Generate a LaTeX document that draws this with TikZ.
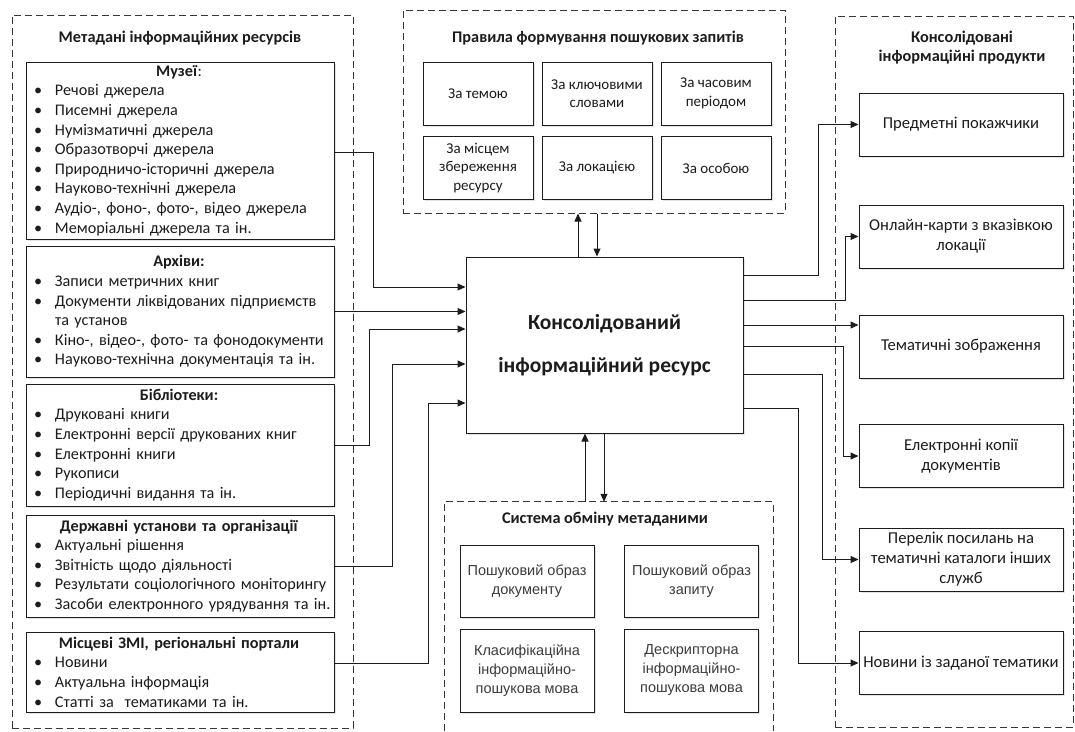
\documentclass[tikz,border=0pt]{standalone}
\usepackage{fontspec}
\setmainfont{Carlito}
\newfontfamily\arialfont{Liberation Sans}
\usetikzlibrary{arrows.meta,shadows}
\definecolor{Ink}{RGB}{28,28,28}
\definecolor{Frame}{RGB}{55,55,55}
\definecolor{Muted}{RGB}{60,60,60}
\newcommand{\bl}{\makebox[27pt][l]{\hspace{6pt}\textbullet}}
\newcommand{\ttl}[1]{\makebox[302pt]{#1}}
\tikzset{
  >=Triangle,
  box/.style={draw=Ink,line width=1pt,fill=white,align=center,text=Ink,font=\fontsize{15}{18.5}\selectfont,inner sep=2pt,drop shadow={shadow xshift=1.5pt,shadow yshift=-1.5pt,opacity=.22}},
  listbox/.style={box,align=left,text width=304pt,inner xsep=2pt,inner ysep=0pt,font=\fontsize{16.2}{19.6}\selectfont},
  rulebox/.style={box,minimum width=110pt,minimum height=63pt},
  exbox/.style={box,minimum width=134pt,text=Muted,font=\arialfont\fontsize{14.5}{19}\selectfont},
  prodbox/.style={box,minimum width=204pt,minimum height=63pt,font=\fontsize{16.6}{20}\selectfont},
  mainbox/.style={box,minimum width=277pt,minimum height=176pt,font=\bfseries\fontsize{21.5}{43}\selectfont},
  frame/.style={draw=Frame,line width=1pt,dash pattern=on 7pt off 4pt},
  head/.style={font=\bfseries\fontsize{16.3}{19}\selectfont,text=Ink,align=center},
  flow/.style={-{Triangle[length=8pt,width=7pt]},line width=1pt,draw=Ink}
}
\begin{document}
\begin{tikzpicture}[x=1pt,y=-1pt]
  \useasboundingbox (0,0) rectangle (1075,731);
  % frames
  \node[frame,minimum width=341pt,minimum height=713pt] (meta) at (182.5,371.5) {};
  \node[frame,minimum width=382pt,minimum height=203pt] (rules) at (594,111.5) {};
  \node[frame,minimum width=238pt,minimum height=711pt] (prod) at (954,371.5) {};
  \node[minimum width=328pt,minimum height=229pt] (exch) at (609,616.5) {};
  \draw[frame] (exch.south west) |- (exch.north east) -- (exch.south east);
  \node[head] (metat) at (180,38) {Метадані інформаційних ресурсів};
  \node[head] (rulest) at (598,38) {Правила формування пошукових запитів};
  \node[head] (prodt) at (962,47.5) {Консолідовані\\інформаційні продукти};
  \node[head] (excht) at (605,519) {Система обміну метаданими};

  % sources
  \node[listbox,minimum height=177pt] (mus) at (180,150.5) {\ttl{\textbf{Музеї}:}\\
    \bl Речові джерела\\ \bl Писемні джерела\\ \bl Нумізматичні джерела\\
    \bl Образотворчі джерела\\ \bl Природничо-історичні джерела\\
    \bl Науково-технічні джерела\\ \bl Аудіо-, фоно-, фото-, відео джерела\\
    \bl Меморіальні джерела та ін.};
  \node[listbox,minimum height=131pt] (arc) at (180,311.5) {\ttl{\textbf{Архіви:}}\\
    \bl Записи метричних книг\\ \bl Документи ліквідованих підприємств\\
    \hspace*{27pt}та установ\\ \bl Кіно-, відео-, фото- та фонодокументи\\
    \bl Науково-технічна документація та ін.};
  \node[listbox,minimum height=122pt] (lib) at (180,445) {\ttl{\textbf{Бібліотеки:}}\\
    \bl Друковані книги\\ \bl Електронні версії друкованих книг\\
    \bl Електронні книги\\ \bl Рукописи\\ \bl Періодичні видання та ін.};
  \node[listbox,minimum height=102pt] (sta) at (180,566) {\ttl{\textbf{Державні установи та організації}}\\
    \bl Актуальні рішення\\ \bl Звітність щодо діяльності\\
    \bl Результати соціологічного моніторингу\\ \bl Засоби електронного урядування та~ін.};
  \node[listbox,minimum height=80pt] (med) at (180,672) {\ttl{\textbf{Місцеві ЗМІ, регіональні портали}}\\
    \bl Новини\\ \bl Актуальна інформація\\ \bl Статті за~ тематиками та ін.};

  % query rules
  \node[rulebox] (r1) at (478,93.5) {За темою};
  \node[rulebox] (r2) at (597,93.5) {За ключовими\\словами};
  \node[rulebox] (r3) at (716,93.5) {За часовим\\періодом};
  \node[rulebox] (r4) at (478,168) {За місцем\\збереження\\ресурсу};
  \node[rulebox] (r5) at (597,168) {За локацією};
  \node[rulebox] (r6) at (716,168) {За особою};

  % resource
  \node[mainbox] (main) at (604.5,345) {Консолідований\\інформаційний ресурс};

  % metadata exchange
  \node[exbox,minimum height=72pt] (e1) at (527,581) {Пошуковий образ\\документу};
  \node[exbox,minimum height=72pt] (e2) at (691.5,581) {Пошуковий образ\\запиту};
  \node[exbox,minimum height=83pt] (e3) at (527,670.5) {Класифікаційна\\інформаційно-\\пошукова мова};
  \node[exbox,minimum height=83pt] (e4) at (691.5,670.5) {Дескрипторна\\інформаційно-\\пошукова мова};

  % products
  \node[prodbox] (p1) at (961,124.5) {Предметні покажчики};
  \node[prodbox] (p2) at (961,236.5) {Онлайн-карти з вказівкою\\локації};
  \node[prodbox] (p3) at (961,346.5) {Тематичні зображення};
  \node[prodbox] (p4) at (961,456) {Електронні копії\\документів};
  \node[prodbox] (p5) at (961,559.5) {Перелік посилань на\\тематичні каталоги інших\\служб};
  \node[prodbox] (p6) at (961,663) {Новини із заданої тематики};

  % inputs
  \draw[flow] (mus.east |- 0,152) -- ++(39,0) |- (main.west |- 0,287);
  \draw[flow] (arc.east) -- (main.west |- arc.east);
  \draw[flow] (lib.east) -- ++(35,0) |- (main.west |- 0,329);
  \draw[flow] (sta.east) -- ++(58,0) |- (main.west |- 0,364);
  \draw[flow] (med.east |- 0,663) -- ++(94,0) |- (main.west |- 0,403);

  % outputs
  \draw[flow] (main.east |- 0,275) -- ++(75,0) |- (p1.west);
  \draw[flow] (main.east |- 0,300) -- ++(102,0) |- (p2.west);
  \draw[flow] (main.east |- 0,325) -- (p3.west |- 0,325);
  \draw[flow] (main.east |- 0,346) -- ++(100,0) |- (p4.west);
  \draw[flow] (main.east |- 0,374) -- ++(79,0) |- (p5.west);
  \draw[flow] (main.east |- 0,408) -- ++(55,0) |- (p6.west);

  % exchange with rules and metadata
  \draw[flow] (main.north -| 578,0) -- (rules.south -| 578,0);
  \draw[flow] (rules.south -| 597,0) -- (main.north -| 597,0);
  \draw[flow] (exch.north -| 585,0) -- (main.south -| 585,0);
  \draw[flow] (main.south -| 604,0) -- (exch.north -| 604,0);
\end{tikzpicture}
\end{document}
